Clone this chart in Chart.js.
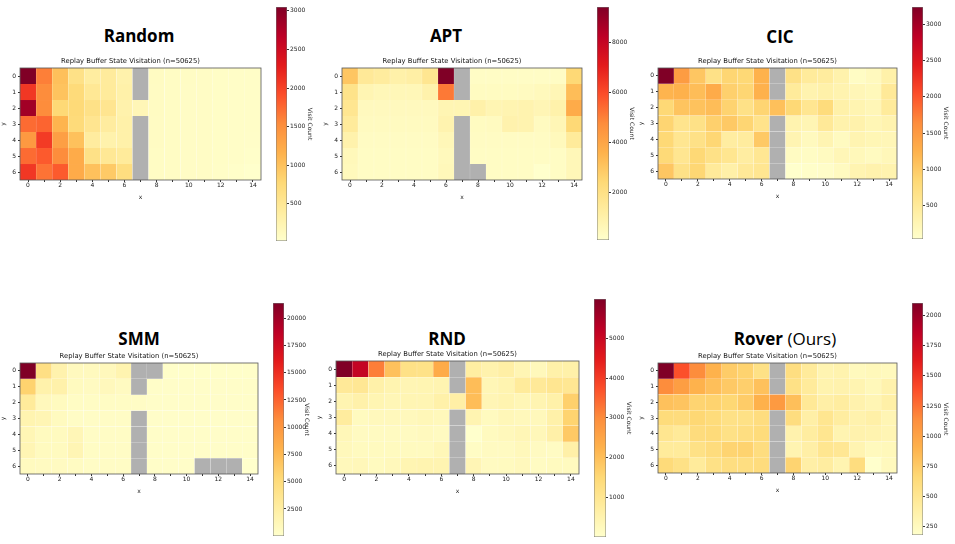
<!DOCTYPE html>
<html>
<head>
<meta charset="utf-8">
<title>Replay Buffer State Visitation</title>
<script src="https://cdn.jsdelivr.net/npm/chart.js@4.4.1/dist/chart.umd.min.js"></script>
<style>
  html, body { margin: 0; padding: 0; background: #fff; }
  body { position: relative; width: 955px; height: 544px; overflow: hidden; }
  canvas { position: absolute; }
  .method { position: absolute; transform: translate(-50%, -50%); font-family: "Open Sans", sans-serif;
            font-size: 17px; font-weight: 700; line-height: 1; white-space: nowrap; color: #000; }
  .method span { font-weight: 400; }
</style>
</head>
<body>
<script>
// grid coordinates
const xLabels = ["0", "1", "2", "3", "4", "5", "6", "7", "8", "9", "10", "11", "12", "13", "14"];
const yLabels = ["0", "1", "2", "3", "4", "5", "6"];

// visit counts, one row per y, null = wall (grey)
const randomVisits = [
  [3050, 1620, 1020, 620, 400, 430, 290, null, 100, 90, 85, 75, 70, 65, 60],
  [2080, 1530, 990, 740, 500, 440, 320, null, 95, 85, 80, 75, 70, 65, 60],
  [2840, 1530, 780, 760, 620, 540, 290, 200, 100, 90, 80, 75, 70, 65, 60],
  [1740, 1780, 1140, 740, 540, 410, 320, null, 95, 90, 80, 75, 70, 65, 60],
  [1410, 2050, 1350, 1010, 410, 290, 320, null, 95, 85, 80, 75, 70, 65, 50],
  [1740, 1840, 1530, 1230, 620, 500, 440, null, 90, 85, 80, 75, 70, 60, 40],
  [2080, 1690, 1840, 1230, 1010, 920, 690, null, 90, 85, 80, 75, 60, 40, 18]
];
const aptVisits = [
  [2970, 1480, 1290, 1010, 1110, 1660, 9400, null, 270, 270, 270, 270, 270, 300, 2410],
  [1850, 730, 600, 600, 600, 920, 5110, null, 360, 360, 360, 400, 500, 650, 3250],
  [1660, 450, 450, 450, 450, 450, 750, 750, 1000, 750, 800, 850, 700, 950, 3800],
  [1380, 400, 400, 400, 400, 400, 850, null, 370, 400, 900, 850, 400, 650, 2410],
  [920, 330, 330, 330, 330, 330, 600, null, 330, 330, 330, 330, 330, 500, 1380],
  [550, 300, 300, 300, 300, 300, 500, null, 300, 300, 300, 300, 300, 300, 600],
  [500, 300, 300, 300, 300, 300, 550, null, null, 300, 300, 300, 80, 300, 600]
];
const cicVisits = [
  [3240, 1480, 1030, 680, 870, 840, 1240, null, 680, 490, 460, 330, 110, 170, 360],
  [1220, 1250, 1130, 1320, 930, 870, 1250, null, 490, 300, 360, 300, 230, 200, 520],
  [840, 1060, 1080, 1130, 900, 680, 880, 1100, 840, 580, 780, 360, 290, 230, 490],
  [880, 620, 680, 930, 1000, 870, 640, null, 300, 260, 520, 330, 330, 250, 300],
  [840, 580, 680, 860, 430, 460, 1000, null, 280, 170, 280, 150, 290, 250, 230],
  [820, 580, 840, 680, 590, 430, 560, null, 130, 110, 150, 230, 200, 150, 210],
  [1030, 680, 860, 500, 370, 520, 580, null, 40, 70, 80, 150, 290, 320, 300]
];
const smmVisits = [
  [21400, 4500, 1920, 850, 850, 1000, 1700, null, null, 230, 230, 230, 230, 230, 230],
  [5800, 2000, 2100, 800, 700, 1000, 700, null, 250, 250, 250, 250, 250, 250, 250],
  [3000, 1000, 800, 500, 500, 500, 500, 450, 250, 250, 250, 250, 250, 250, 250],
  [1700, 1500, 800, 450, 450, 450, 450, null, 250, 250, 250, 250, 250, 250, 250],
  [1400, 800, 800, 1300, 450, 450, 450, null, 250, 250, 250, 250, 250, 250, 250],
  [1500, 800, 800, 1500, 500, 450, 450, null, 250, 250, 250, 250, 250, 250, 250],
  [800, 700, 700, 650, 450, 450, 450, null, 250, 250, 250, null, null, null, 20]
];
const rndVisits = [
  [5990, 5100, 3170, 1970, 1200, 1180, 2400, null, 720, 540, 660, 420, 300, 600, 600],
  [900, 960, 600, 480, 420, 440, 470, null, 2030, 380, 480, 840, 900, 1020, 990],
  [470, 580, 440, 380, 430, 430, 600, 650, 2030, 400, 480, 380, 460, 600, 1680],
  [780, 230, 280, 280, 280, 340, 300, null, 470, 230, 340, 290, 290, 600, 1600],
  [350, 200, 200, 200, 200, 250, 200, null, 5, 220, 290, 380, 320, 620, 1800],
  [290, 230, 230, 230, 230, 230, 350, null, 140, 200, 200, 290, 200, 160, 620],
  [290, 330, 230, 290, 440, 480, 460, null, 400, 200, 220, 280, 180, 230, 230]
];
const roverVisits = [
  [2105, 1380, 1140, 900, 740, 700, 570, null, 600, 450, 330, 345, 260, 280, 260],
  [1140, 1030, 900, 820, 760, 720, 810, null, 570, 450, 345, 350, 330, 280, 350],
  [810, 790, 690, 700, 670, 740, 910, 1060, 820, 470, 390, 420, 350, 310, 380],
  [630, 620, 670, 630, 570, 570, 610, null, 610, 390, 510, 420, 350, 380, 310],
  [510, 460, 620, 640, 570, 600, 630, null, 350, 420, 510, 330, 350, 340, 310],
  [450, 450, 570, 620, 690, 700, 610, null, 330, 390, 510, 490, 330, 260, 280],
  [640, 570, 450, 570, 600, 600, 620, null, 690, 390, 420, 330, 610, 180, 260]
];

// colorbar tick labels
const randomTicks = [500, 1000, 1500, 2000, 2500, 3000];
const aptTicks = [2000, 4000, 6000, 8000];
const cicTicks = [500, 1000, 1500, 2000, 2500, 3000];
const smmTicks = [2500, 5000, 7500, 10000, 12500, 15000, 17500, 20000];
const rndTicks = [1000, 2000, 3000, 4000, 5000];
const roverTicks = [250, 500, 750, 1000, 1250, 1500, 1750, 2000];

const subtitle = "Replay Buffer State Visitation (n=50625)";

// layout: heatmap plot area, colorbar box, big title centre (pixels)
const panels = [
  { name: "Random", data: randomVisits, ticks: randomTicks, heat: [20, 68, 261, 180], bar: [276, 7, 287, 241], head: [139, 35] },
  { name: "APT", data: aptVisits, ticks: aptTicks, heat: [342, 68, 582, 180], bar: [597, 7, 609, 240], head: [446, 35] },
  { name: "CIC", data: cicVisits, ticks: cicTicks, heat: [658, 68, 897, 179], bar: [912, 7, 923, 239], head: [780, 36] },
  { name: "SMM", data: smmVisits, ticks: smmTicks, heat: [20, 363, 258, 474], bar: [273, 303, 284, 536], head: [139, 338] },
  { name: "RND", data: rndVisits, ticks: rndTicks, heat: [336, 361, 579, 474], bar: [594, 299, 606, 537], head: [447, 338] },
  { name: "Rover", extra: "(Ours)", data: roverVisits, ticks: roverTicks, heat: [658, 363, 897, 473], bar: [912, 303, 923, 535], head: [785, 338] }
];

const YLORRD = ["#ffffcc", "#ffeda0", "#fed976", "#feb24c", "#fd8d3c", "#fc4e2a", "#e31a1c", "#bd0026", "#800026"];
const WALL = "#b0b0b0";
const FONT = { family: "'DejaVu Sans', sans-serif", size: 6 };
const INK = "#222";

function hexRgb(h) {
  return [1, 3, 5].map(i => parseInt(h.slice(i, i + 2), 16));
}
const stops = YLORRD.map(hexRgb);

function cmap(t) {
  t = Math.max(0, Math.min(1, t));
  const s = t * (stops.length - 1);
  const i = Math.min(Math.floor(s), stops.length - 2);
  const f = s - i;
  const c = stops[i].map((a, k) => Math.round(a + (stops[i + 1][k] - a) * f));
  return `rgb(${c[0]},${c[1]},${c[2]})`;
}

// outline around the plot area, like the matplotlib spines
const framePlugin = {
  id: "frame",
  afterDatasetsDraw(chart) {
    const { ctx, chartArea: a } = chart;
    ctx.save();
    ctx.strokeStyle = "#555";
    ctx.lineWidth = 0.8;
    ctx.strokeRect(a.left, a.top, a.right - a.left, a.bottom - a.top);
    ctx.restore();
  }
};

function makeCanvas(left, top, w, h) {
  const cv = document.createElement("canvas");
  cv.width = w;
  cv.height = h;
  cv.style.left = left + "px";
  cv.style.top = top + "px";
  cv.style.width = w + "px";
  cv.style.height = h + "px";
  document.body.appendChild(cv);
  return cv;
}

function drawHeatmap(p, lo, hi) {
  const [L, T, R, B] = p.heat;
  const padL = 20, padR = 6, padB = 21, titleH = 11;
  const cv = makeCanvas(L - padL, T - titleH, R - L + padL + padR, B - T + titleH + padB);

  new Chart(cv, {
    type: "bar",
    data: {
      labels: xLabels,
      datasets: yLabels.map((yl, r) => ({
        label: "y=" + yl,
        data: p.data[r].map(() => [r, r + 1]),
        backgroundColor: p.data[r].map(v => (v === null ? WALL : cmap((v - lo) / (hi - lo)))),
        borderColor: "rgba(255,255,255,0.18)",
        borderWidth: 0.4,
        borderSkipped: false,
        barPercentage: 1,
        categoryPercentage: 1,
        grouped: false
      }))
    },
    options: {
      responsive: false,
      animation: false,
      events: [],
      layout: { padding: { right: padR } },
      plugins: {
        legend: { display: false },
        tooltip: { enabled: false },
        title: {
          display: true,
          text: subtitle,
          color: "#111",
          font: { family: FONT.family, size: 6.8, weight: "normal", lineHeight: 1.2 },
          padding: { top: 0, bottom: 11 - 6.8 * 1.2 }
        }
      },
      scales: {
        x: {
          type: "category",
          offset: true,
          afterFit: s => { s.height = padB; },
          grid: { drawOnChartArea: false, offset: false, tickLength: 2, color: "#333" },
          border: { display: false },
          ticks: {
            autoSkip: false,
            maxRotation: 0,
            padding: 0,
            color: INK,
            font: FONT,
            callback: (v, i) => (i % 2 === 0 ? xLabels[i] : "")
          },
          title: { display: true, text: "x", color: INK, font: FONT, padding: { top: 1, bottom: 0 } }
        },
        y: {
          type: "linear",
          min: 0,
          max: yLabels.length,
          reverse: true,
          afterFit: s => { s.width = padL; },
          afterBuildTicks: s => { s.ticks = yLabels.map((l, i) => ({ value: i + 0.5 })); },
          grid: { drawOnChartArea: false, tickLength: 2, color: "#333" },
          border: { display: false },
          ticks: {
            padding: 2,
            color: INK,
            font: FONT,
            callback: v => yLabels[Math.round(v - 0.5)]
          },
          title: { display: true, text: "y", color: INK, font: FONT, padding: { top: 0, bottom: 3 } }
        }
      }
    },
    plugins: [framePlugin]
  });
}

function drawColorbar(p, lo, hi) {
  const [L, T, R, B] = p.bar;
  const axisW = 26, pad = 6;
  const cv = makeCanvas(L, T - pad, R - L + axisW, B - T + 2 * pad);

  new Chart(cv, {
    type: "bar",
    data: {
      labels: [""],
      datasets: [{
        data: [[lo, hi]],
        backgroundColor: ctx => {
          const ch = ctx.chart;
          if (!ch.chartArea) return YLORRD[0];
          const ys = ch.scales.y;
          const g = ch.ctx.createLinearGradient(0, ys.getPixelForValue(lo), 0, ys.getPixelForValue(hi));
          YLORRD.forEach((c, i) => g.addColorStop(i / (YLORRD.length - 1), c));
          return g;
        },
        borderColor: "#777",
        borderWidth: 0.8,
        borderSkipped: false,
        barPercentage: 1,
        categoryPercentage: 1
      }]
    },
    options: {
      responsive: false,
      animation: false,
      events: [],
      layout: { padding: { top: pad, bottom: pad } },
      plugins: { legend: { display: false }, tooltip: { enabled: false } },
      scales: {
        x: { display: false },
        y: {
          position: "right",
          min: lo,
          max: hi,
          afterFit: s => { s.width = axisW; },
          afterBuildTicks: s => { s.ticks = p.ticks.map(v => ({ value: v })); },
          grid: { drawOnChartArea: false, tickLength: 2, color: "#333" },
          border: { display: false },
          ticks: { padding: 1, color: INK, font: FONT, callback: v => String(v) },
          title: { display: true, text: "Visit Count", color: INK, font: FONT, padding: 0 }
        }
      }
    }
  });
}

panels.forEach(p => {
  const vals = p.data.flat().filter(v => v !== null);
  const lo = Math.min(...vals);
  const hi = Math.max(...vals);

  const head = document.createElement("div");
  head.className = "method";
  head.style.left = p.head[0] + "px";
  head.style.top = p.head[1] + "px";
  head.textContent = p.name;
  if (p.extra) {
    const s = document.createElement("span");
    s.textContent = " " + p.extra;
    head.appendChild(s);
  }
  document.body.appendChild(head);

  drawHeatmap(p, lo, hi);
  drawColorbar(p, lo, hi);
});
</script>
</body>
</html>
